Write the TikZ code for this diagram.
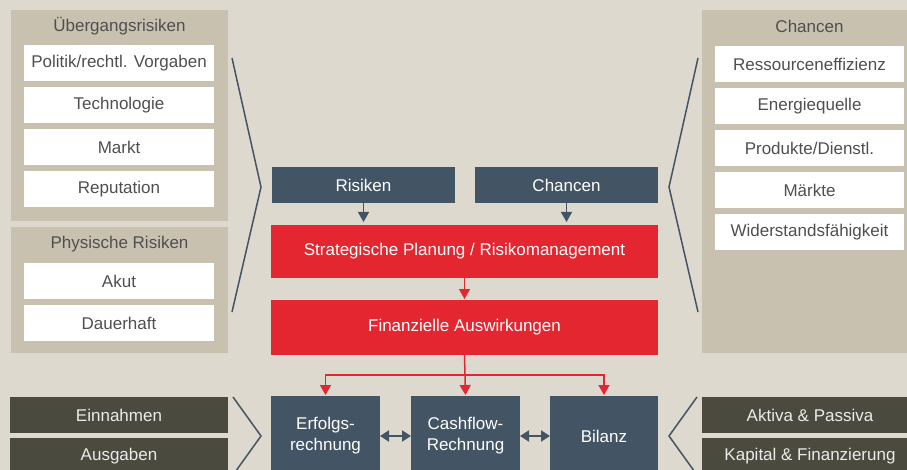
\documentclass[tikz,border=0pt]{standalone}
\usepackage{fontspec}
\setmainfont{Liberation Sans}
\usetikzlibrary{positioning}
\usetikzlibrary{arrows.meta}
\definecolor{bgGray}{HTML}{DDD9CF}
\definecolor{panelTan}{HTML}{C9C1B0}
\definecolor{slateBlue}{HTML}{435464}
\definecolor{signalRed}{HTML}{E42630}
\definecolor{oliveDark}{HTML}{4A4A3F}
\definecolor{textGray}{HTML}{4F4F4F}
\tikzset{
    objPanel/.style={rectangle, fill=panelTan, inner sep=0pt, outer sep=0pt},
    objTitle/.style={text=textGray, font=\fontsize{17}{20}\selectfont},
    objWhite/.style={rectangle, fill=white, minimum width=190pt, minimum height=36pt, inner sep=0pt, text=textGray, font=\fontsize{17}{20}\selectfont},
    objDark/.style={rectangle, fill=slateBlue, minimum height=36pt, inner sep=0pt, outer sep=0pt, text=white, font=\fontsize{17}{20}\selectfont},
    objRed/.style={rectangle, fill=signalRed, minimum width=387pt, inner sep=0pt, outer sep=0pt, text=white, font=\fontsize{17}{20}\selectfont},
    objStatement/.style={rectangle, fill=slateBlue, minimum height=80pt, inner sep=0pt, outer sep=0pt, text=white, align=center, font=\fontsize{17}{21}\selectfont},
    objOlive/.style={rectangle, fill=oliveDark, minimum height=36pt, inner sep=0pt, text=white!92!black, font=\fontsize{17}{20}\selectfont},
    bracket/.style={slateBlue, line width=1.5pt},
    arrowDark/.style={slateBlue, line width=1.5pt, -{Triangle[width=11pt, length=10pt]}},
    arrowRed/.style={signalRed, line width=1.5pt, -{Triangle[width=11pt, length=10pt]}},
    arrowBoth/.style={slateBlue, line width=2pt, {Triangle[width=11pt, length=9pt]}-{Triangle[width=11pt, length=9pt]}}
}
\begin{document}
\begin{tikzpicture}[x=1pt, y=-1pt, node distance=42pt]
  \clip (0,0) rectangle (907,470);
  \fill[bgGray] (0,0) rectangle (907,470);

  % risks on the left
  \node (ueb) [objPanel, minimum width=217pt, minimum height=211pt] at (119.5,115.5) {};
  \node (uebT) [objTitle] at (119.5,26) {Übergangsrisiken};
  \node (ueb1) [objWhite] at (119,63) {Politik/rechtl. Vorgaben};
  \node (ueb2) [objWhite, below of=ueb1] {Technologie};
  \node (ueb3) [objWhite, below of=ueb2] {Markt};
  \node (ueb4) [objWhite, below of=ueb3] {Reputation};

  \node (phy) [objPanel, minimum width=217pt, minimum height=126pt] at (119.5,290) {};
  \node (phyT) [objTitle] at (119.5,244) {Physische Risiken};
  \node (phy1) [objWhite] at (119,281) {Akut};
  \node (phy2) [objWhite, below of=phy1] {Dauerhaft};

  % chances on the right
  \node (cha) [objPanel, minimum width=215pt, minimum height=343pt] at (809.5,181.5) {};
  \node (chaT) [objTitle] at (809.5,26) {Chancen};
  \node (cha1) [objWhite, minimum width=189pt] at (809.5,64) {Ressourceneffizienz};
  \node (cha2) [objWhite, minimum width=189pt, below of=cha1] {Energiequelle};
  \node (cha3) [objWhite, minimum width=189pt, below of=cha2] {Produkte/Dienstl.};
  \node (cha4) [objWhite, minimum width=189pt, below of=cha3] {Märkte};
  \node (cha5) [objWhite, minimum width=189pt, below of=cha4] {Widerstandsfähigkeit};

  % middle
  \node (risk) [objDark, minimum width=183pt] at (363.5,185) {Risiken};
  \node (chan) [objDark, minimum width=183pt] at (566.5,185) {Chancen};
  \node (strat) [objRed, minimum height=53pt] at (464.5,251.5) {Strategische Planung / Risikomanagement};
  \node (fin) [objRed, minimum height=55pt] at (464.5,327.5) {Finanzielle Auswirkungen};

  % statements
  \node (erf) [objStatement, minimum width=109pt] at (325.5,436) {Erfolgs-\\rechnung};
  \node (cash) [objStatement, minimum width=109pt] at (465.5,436) {Cashflow-\\Rechnung};
  \node (bil) [objStatement, minimum width=108pt] at (604,436) {Bilanz};

  \node (ein) [objOlive, minimum width=218pt] at (119,415) {Einnahmen};
  \node (aus) [objOlive, minimum width=218pt] at (119,456) {Ausgaben};
  \node (akt) [objOlive, minimum width=216pt] at (810,415) {Aktiva \& Passiva};
  \node (kap) [objOlive, minimum width=216pt] at (810,456) {Kapital \& Finanzierung};

  % brackets
  \coordinate (lbA) at (232,58);
  \coordinate (lbB) at (261,187);
  \coordinate (lbC) at (232,312);
  \coordinate (rbA) at (698,58);
  \coordinate (rbB) at (669,187);
  \coordinate (rbC) at (698,312);
  \coordinate (lcA) at (233,397);
  \coordinate (lcB) at (261,436);
  \coordinate (lcC) at (233,475);
  \coordinate (rcA) at (697,397);
  \coordinate (rcB) at (669,436);
  \coordinate (rcC) at (697,475);
  \draw[bracket] (lbA) -- (lbB) -- (lbC);
  \draw[bracket] (rbA) -- (rbB) -- (rbC);
  \draw[bracket] (lcA) -- (lcB) -- (lcC);
  \draw[bracket] (rcA) -- (rcB) -- (rcC);

  \draw[arrowDark, shorten >=3pt] (risk.south) -- (risk.south |- strat.north);
  \draw[arrowDark, shorten >=3pt] (chan.south) -- (chan.south |- strat.north);
  \draw[arrowRed, shorten >=1pt] (strat.south) -- (fin.north);

  \draw[arrowRed, shorten >=1pt] (fin.south) -- ++(0,20) -| (erf.north);
  \draw[arrowRed, shorten >=1pt] (fin.south) -- (cash.north);
  \draw[arrowRed, shorten >=1pt] (fin.south) -- ++(0,20) -| (bil.north);

  \draw[arrowBoth] (erf.east) -- (cash.west);
  \draw[arrowBoth] (cash.east) -- (bil.west);
\end{tikzpicture}
\end{document}
